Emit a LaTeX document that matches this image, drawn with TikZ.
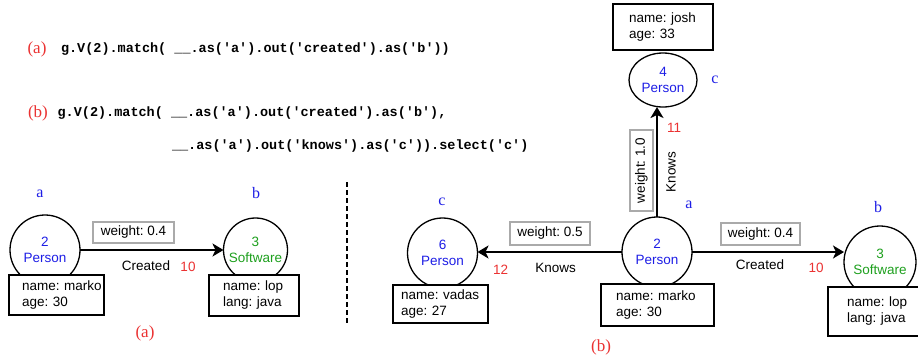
\documentclass[tikz,border=0pt]{standalone}
\usepackage{fontspec}
\setmainfont{Liberation Sans}
\newfontfamily\seriff{Liberation Serif}
\newfontfamily\monof{Liberation Mono}
\usetikzlibrary{arrows.meta,shapes.geometric}
\definecolor{vblue}{RGB}{30,30,230}
\definecolor{vgreen}{RGB}{30,160,30}
\definecolor{vred}{RGB}{235,50,50}
\definecolor{wgray}{RGB}{170,170,170}
\begin{document}
\frenchspacing
\begin{tikzpicture}[x=1pt,y=-1pt,
  every node/.style={inner sep=0pt, outer sep=0pt},
  sanslbl/.style={font=\fontsize{13.5}{16}\selectfont},
  rednum/.style={font=\fontsize{13.5}{16}\selectfont, text=vred},
  bluelbl/.style={font=\seriff\fontsize{16}{18}\selectfont, text=vblue},
  redtag/.style={font=\seriff\fontsize{17}{19}\selectfont, text=vred},
  code/.style={font=\monof\bfseries\fontsize{13.5}{16}\selectfont, anchor=west},
  vtx/.style={circle, draw, line width=1.3pt, fill=white, align=center, minimum size=70pt, font=\fontsize{13.5}{16.5}\selectfont},
  propbox/.style={draw, line width=1.3pt, fill=white, align=left, inner ysep=0pt, font=\frenchspacing\fontsize{13.5}{16}\selectfont},
  wbox/.style={draw=wgray, line width=1.5pt, fill=white, align=center, minimum height=22pt, minimum width=80pt, font=\frenchspacing\fontsize{13.5}{16}\selectfont},
  arr/.style={line width=2.5pt, -{Stealth[length=11pt,width=13pt,inset=3pt]}},
  sepline/.style={line width=2pt, dash pattern=on 5pt off 3pt}
]
\clip (0,0) rectangle (918,360);
\fill[white] (0,0) rectangle (918,360);

% code lines
\node[redtag] (ta) at (37,49) {(a)};
\node[code] (ca) at (61,49) {g.V(2).match( \_\_.as('a').out('created').as('b'))};
\node[redtag] (tb) at (38,113) {(b)};
\node[code] (cb1) at (57.6,113) {g.V(2).match( \_\_.as('a').out('created').as('b'),};
\node[code] (cb2) at (172,146) {\_\_.as('a').out('knows').as('c')).select('c')};

% separator
\coordinate (s1) at (346.7,182);
\coordinate (s2) at (346.7,323);
\draw[sepline] (s1) -- (s2);

% ----- (a) -----
\node[vtx, text=vblue] (A2) at (45,250) {2\\Person};
\node[vtx, text=vgreen, minimum size=64pt] (A3) at (255.5,250) {3\\Software};
\draw[arr] (A2.east) -- (A3.west);
\node[propbox, text width=69pt, inner xsep=13pt, minimum height=40pt] (A2p) at (56.5,295) {\mbox{name: marko}\\\mbox{age: 30}};
\node[propbox, text width=62pt, inner xsep=14pt, minimum height=41pt] (A3p) at (254,295.5) {\mbox{name: lop}\\\mbox{lang: java}};
\node[wbox, minimum width=81pt, minimum height=21pt] (Aw) at (133.5,232.5) {weight: 0.4};
\node[sanslbl] (Acr) at (146,266) {Created};
\node[rednum] (A10) at (188,267) {10};
\node[bluelbl] (Aa) at (40,194) {a};
\node[bluelbl] (Ab) at (256,193) {b};
\node[redtag] (la) at (145,333) {(a)};

% ----- (b) -----
\node[vtx, text=vblue] (B2) at (657,252) {2\\Person};
\node[vtx, text=vblue] (B6) at (442.5,253) {6\\Person};
\node[vtx, text=vgreen, minimum size=72pt] (B3) at (880,262) {3\\Software};
\node[ellipse, draw, line width=1.3pt, fill=white, align=center, minimum width=68pt, minimum height=54pt, text=vblue, font=\fontsize{13.5}{16}\selectfont] (B4) at (663,80) {4\\Person};
\draw[arr] (B2.west) -- (B2.west -| B6.east);
\draw[arr] (B2.east) -- (B2.east -| B3.west);
\draw[arr] (B2.north) -- (B2.north |- B4.south);

\node[propbox, text width=83pt, inner xsep=15pt, minimum height=42pt] (B2p) at (657.5,305) {\mbox{name: marko}\\\mbox{age: 30}};
\node[propbox, text width=79pt, inner xsep=8pt, minimum height=38pt] (B6p) at (440.5,304) {\mbox{name: vadas}\\\mbox{age: 27}};
\node[propbox, text width=56pt, inner xsep=19pt, minimum height=49pt] (B3p) at (875,311.5) {\mbox{name: lop}\\\mbox{lang: java}};
\node[propbox, text width=68pt, inner xsep=16pt, minimum height=46pt] (B4p) at (663,27) {\mbox{name: josh}\\\mbox{age: 33}};

\node[wbox, minimum height=23pt] (Bw5) at (550,233.5) {weight: 0.5};
\node[wbox, minimum width=79pt] (Bw4) at (760.5,234) {weight: 0.4};
\node[wbox, minimum width=81pt, minimum height=23pt, rotate=90] (Bw1) at (641.5,170.5) {weight: 1.0};

\node[sanslbl] (Bkn) at (555.7,268) {Knows};
\node[rednum] (B12) at (500.7,270) {12};
\node[sanslbl] (Bcr) at (760,265) {Created};
\node[rednum] (B10) at (816,268) {10};
\node[sanslbl, rotate=90] (Bkv) at (671,172) {Knows};
\node[rednum] (B11) at (674,128) {11};

\node[bluelbl] (Bc6) at (442,202) {c};
\node[bluelbl] (Ba) at (689,205) {a};
\node[bluelbl] (Bb) at (878,207) {b};
\node[bluelbl] (Bc4) at (715,80) {c};
\node[redtag] (lb) at (601,347) {(b)};
\end{tikzpicture}
\end{document}
